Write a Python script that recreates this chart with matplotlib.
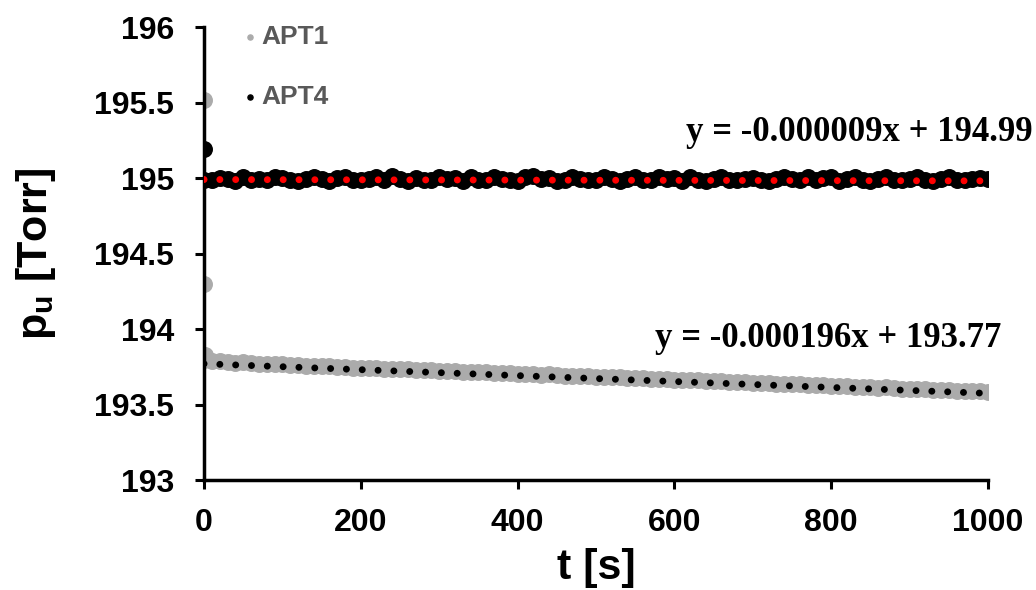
import matplotlib
matplotlib.use("Agg")
import matplotlib.pyplot as plt

plt.rcParams["font.family"] = "Liberation Sans"
plt.rcParams["font.weight"] = "bold"
plt.rcParams["axes.labelweight"] = "bold"
plt.rcParams["mathtext.fontset"] = "custom"
plt.rcParams["mathtext.bf"] = "Liberation Sans:bold"
plt.rcParams["mathtext.rm"] = "Liberation Sans:bold"

# sample times [s]
t = list(range(0, 1001, 10))

# APT1 pressure [Torr]
apt1_p = [
    193.795, 193.787, 193.785, 193.781, 193.776, 193.779, 193.772, 193.770, 193.768, 193.771,
    193.766, 193.762, 193.763, 193.758, 193.757, 193.752, 193.754, 193.749, 193.750, 193.745,
    193.744, 193.741, 193.743, 193.737, 193.736, 193.733, 193.735, 193.729, 193.728, 193.727,
    193.724, 193.721, 193.723, 193.718, 193.716, 193.714, 193.715, 193.710, 193.708, 193.709,
    193.703, 193.702, 193.700, 193.698, 193.699, 193.694, 193.692, 193.690, 193.691, 193.686,
    193.684, 193.683, 193.680, 193.681, 193.676, 193.674, 193.673, 193.670, 193.668, 193.669,
    193.664, 193.662, 193.660, 193.661, 193.656, 193.654, 193.653, 193.650, 193.649, 193.646,
    193.644, 193.645, 193.640, 193.638, 193.637, 193.634, 193.635, 193.630, 193.628, 193.627,
    193.624, 193.625, 193.620, 193.618, 193.617, 193.614, 193.612, 193.613, 193.608, 193.606,
    193.605, 193.602, 193.603, 193.598, 193.596, 193.595, 193.592, 193.590, 193.591, 193.587,
    193.585,
]
# start-up points of APT1
apt1_start_t = [0, 0, 1]
apt1_start_p = [195.52, 194.30, 193.83]

# APT4 pressure [Torr]
apt4_p = [
    194.990, 194.986, 195.002, 194.993, 194.982, 195.004, 194.988, 194.996, 194.984, 195.005,
    195.002, 194.986, 194.981, 194.994, 195.006, 194.991, 194.983, 194.998, 195.004, 194.987,
    194.984, 194.995, 195.005, 194.990, 195.016, 194.993, 194.982, 195.003, 194.989, 194.984,
    195.004, 194.992, 194.997, 194.983, 195.006, 194.990, 194.985, 195.004, 194.995, 194.986,
    194.983, 195.004, 195.012, 194.992, 195.003, 194.982, 194.990, 195.005, 194.994, 194.984,
    194.989, 195.004, 194.996, 194.983, 194.991, 195.005, 194.987, 194.984, 195.004, 194.993,
    194.997, 194.983, 195.004, 194.990, 194.981, 194.995, 195.006, 194.988, 194.985, 194.996,
    195.003, 194.990, 194.983, 194.994, 195.008, 194.991, 194.984, 195.004, 194.987, 194.997,
    195.004, 194.983, 194.992, 195.004, 194.989, 194.982, 194.995, 195.005, 194.990, 194.984,
    194.993, 195.004, 194.988, 194.983, 194.996, 195.004, 194.990, 194.985, 194.995, 195.002,
    194.991,
]
apt4_start_t = [0]
apt4_start_p = [195.19]

# linear trendlines (slope, intercept)
fit1 = (-0.000196, 193.77)
fit4 = (-0.000009, 194.99)
fit_t = [0, 1000]

grey = "#ababab"

fig = plt.figure(figsize=(10.36, 5.9), dpi=100)
ax = fig.add_axes([0.1969, 0.1864, 0.7568, 0.7678])

s1 = ax.scatter(apt1_start_t + t, apt1_start_p + apt1_p, s=125, color=grey, zorder=2, label="APT1")
s4 = ax.scatter(apt4_start_t + t, apt4_start_p + apt4_p, s=125, color="black", zorder=2, label="APT4")

y1 = [fit1[0] * x + fit1[1] for x in fit_t]
y4 = [fit4[0] * x + fit4[1] for x in fit_t]
ax.plot(fit_t, y1, color="black", lw=5, linestyle=(0, (0.01, 2.27)), dash_capstyle="round", zorder=3)
ax.plot(fit_t, y4, color="red", lw=5, linestyle=(0, (0.01, 2.27)), dash_capstyle="round", zorder=3)

ax.set_xlim(0, 1000)
ax.set_ylim(193, 196)
ax.set_xticks([0, 200, 400, 600, 800, 1000])
ax.set_yticks([193, 193.5, 194, 194.5, 195, 195.5, 196])
ax.set_yticklabels(["193", "193.5", "194", "194.5", "195", "195.5", "196"])
ax.tick_params(labelsize=23, width=2.2, length=6.5, direction="out")
ax.tick_params(axis="x", pad=14)
ax.tick_params(axis="y", pad=15)
for side in ["top", "right"]:
    ax.spines[side].set_visible(False)
for side in ["left", "bottom"]:
    ax.spines[side].set_linewidth(2.5)

ax.set_xlabel("t [s]", fontsize=31, fontweight="bold", labelpad=7)
ax.set_ylabel(r"$\mathbf{p_u}$ [Torr]", fontsize=31, fontweight="bold", labelpad=26)

ax.legend(handles=[s1, s4], loc="upper left", bbox_to_anchor=(0.035, 1.027), markerscale=0.33,
          frameon=False, prop={"size": 19, "weight": "bold"}, labelcolor="#595959",
          handlelength=0.6, handletextpad=0.15, labelspacing=1.35, borderaxespad=0)

eq_font = {"family": "Liberation Serif", "weight": "bold", "size": 25}
ax.text(0.615, 0.768, "y = -0.000009x + 194.99", transform=ax.transAxes, va="center", fontdict=eq_font, clip_on=False)
ax.text(0.575, 0.312, "y = -0.000196x + 193.77", transform=ax.transAxes, va="center", fontdict=eq_font, clip_on=False)

plt.savefig("out.png", dpi=100)
